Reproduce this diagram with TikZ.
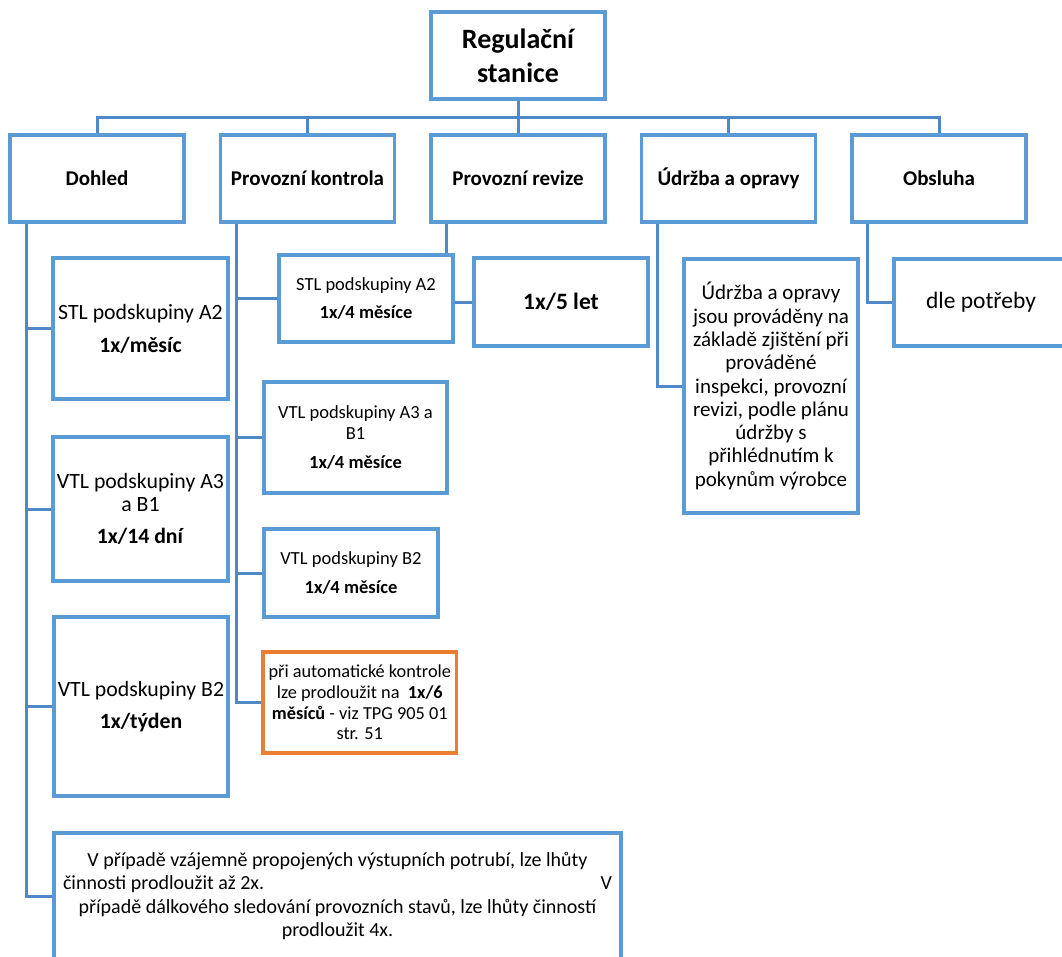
\documentclass[tikz,border=0pt]{standalone}
\usepackage{fontspec}
\setmainfont{Carlito}
\usetikzlibrary{backgrounds}
\definecolor{boxblue}{HTML}{5B9BD5}
\definecolor{linkblue}{HTML}{4F88C6}
\definecolor{noteorange}{HTML}{ED7D31}
\tikzset{
  box/.style={draw=boxblue, line width=3.4pt, fill=white, align=center,
    inner sep=2pt, font=\fontsize{21}{23.5}\selectfont},
  head/.style={box, minimum width=174pt, minimum height=87pt,
    font=\fontsize{21}{23.5}\selectfont\bfseries},
  dsub/.style={box, font=\fontsize{21.8}{23.5}\selectfont},
  small/.style={font=\fontsize{18.5}{20.7}\selectfont},
  note/.style={box, draw=noteorange, font=\fontsize{18.3}{20.6}\selectfont},
  link/.style={draw=linkblue, line width=3pt},
}
\begin{document}
\begin{tikzpicture}[x=1pt, y=-1pt]
\useasboundingbox (0,0) rectangle (1062,956);
\clip (0,0) rectangle (1062,956);

% root and first level
\node[head, font=\fontsize{28}{34}\selectfont\bfseries] (top) at (518,55.5) {Regulační\\stanice};
\node[head] (dohled)   at (97,178.5)    {Dohled};
\node[head] (kontrola) at (307.5,178.5) {Provozní kontrola};
\node[head] (revize)   at (518,178.5)   {Provozní revize};
\node[head] (udrzba)   at (728.5,178.5) {Údržba a opravy};
\node[head] (obsluha)  at (939,178.5)   {Obsluha};

% tie points of the vertical branches
\coordinate (bar) at (518,117);
\coordinate (dl) at ([xshift=18pt]dohled.south west);
\coordinate (kl) at ([xshift=17.5pt]kontrola.south west);
\coordinate (rl) at ([xshift=17.5pt]revize.south west);
\coordinate (ul) at ([xshift=17.5pt]udrzba.south west);
\coordinate (ol) at ([xshift=17pt]obsluha.south west);

% second level
\node[dsub, minimum width=175pt, minimum height=141pt] (d1) at (140.5,328.5)
  {STL podskupiny A2\\[9.5pt]\textbf{1x/měsíc}};
\node[dsub, minimum width=175pt, minimum height=144pt] (d2) at (140.5,509)
  {VTL podskupiny A3\\a B1\\[8.5pt]\textbf{1x/14 dní}};
\node[dsub, minimum width=174pt, minimum height=179pt] (d3) at (141,706.5)
  {VTL podskupiny B2\\[8.5pt]\textbf{1x/týden}};
\node[box, font=\fontsize{20}{23.3}\selectfont, minimum width=567pt, minimum height=126pt] (d4) at (337.5,896)
  {V případě vzájemně propojených výstupních potrubí, lze lhůty\\
   \makebox[549pt][s]{činnosti prodloužit až 2x.\hfill V}\\
   případě dálkového sledování provozních stavů, lze lhůty činností\\
   prodloužit 4x.};

\node[box, small, minimum width=174pt, minimum height=87pt] (k1) at (366,298.5)
  {STL podskupiny A2\\[7.6pt]\textbf{1x/4 měsíce}};
\node[box, small, minimum width=183pt, minimum height=111pt] (k2) at (355.5,437.5)
  {VTL podskupiny A3 a\\B1\\[8pt]\textbf{1x/4 měsíce}};
\node[box, small, minimum width=174pt, minimum height=88pt] (k3) at (351,573)
  {VTL podskupiny B2\\[7.6pt]\textbf{1x/4 měsíce}};
\node[note, minimum width=193.5pt, minimum height=101pt] (k4) at (359.75,702.5)
  {při automatické kontrole\\lze prodloužit na\ \ \textbf{1x/6}\\\textbf{měsíců} - viz TPG 905 01\\str. 51};

\node[box, font=\fontsize{23.5}{28}\selectfont\bfseries, minimum width=174pt, minimum height=88pt] (r1) at (561,302)
  {1x/5 let};
\node[box, font=\fontsize{21}{23.3}\selectfont, minimum width=174pt, minimum height=254pt] (u1) at (771,386)
  {Údržba a opravy\\jsou prováděny na\\základě zjištění při\\prováděné\\inspekci, provozní\\revizi, podle plánu\\údržby s\\přihlédnutím k\\pokynům výrobce};
\node[box, font=\fontsize{23.5}{28}\selectfont, minimum width=174pt, minimum height=87pt] (o1) at (981,302.5)
  {dle potřeby};

% connectors, drawn beneath the boxes
\begin{scope}[on background layer]
  \draw[link] (top.south) -- (top.south |- bar);
  \draw[link] (dohled.north) -- (dohled.north |- bar) -- (obsluha.north |- bar) -- (obsluha.north);
  \draw[link] (kontrola.north) -- (kontrola.north |- bar);
  \draw[link] (revize.north) -- (revize.north |- bar);
  \draw[link] (udrzba.north) -- (udrzba.north |- bar);

  \draw[link] (dl) -- (dl |- d4.west) -- (d4.west);
  \draw[link] (dl |- d1.west) -- (d1.west);
  \draw[link] (dl |- d2.west) -- (d2.west);
  \draw[link] (dl |- d3.west) -- (d3.west);

  \draw[link] (kl) -- (kl |- k4.west) -- (k4.west);
  \draw[link] (kl |- k1.west) -- (k1.west);
  \draw[link] (kl |- k2.west) -- (k2.west);
  \draw[link] (kl |- k3.west) -- (k3.west);

  \draw[link] (rl) |- (r1.west);
  \draw[link] (ul) |- (u1.west);
  \draw[link] (ol) |- (o1.west);
\end{scope}
\end{tikzpicture}
\end{document}
